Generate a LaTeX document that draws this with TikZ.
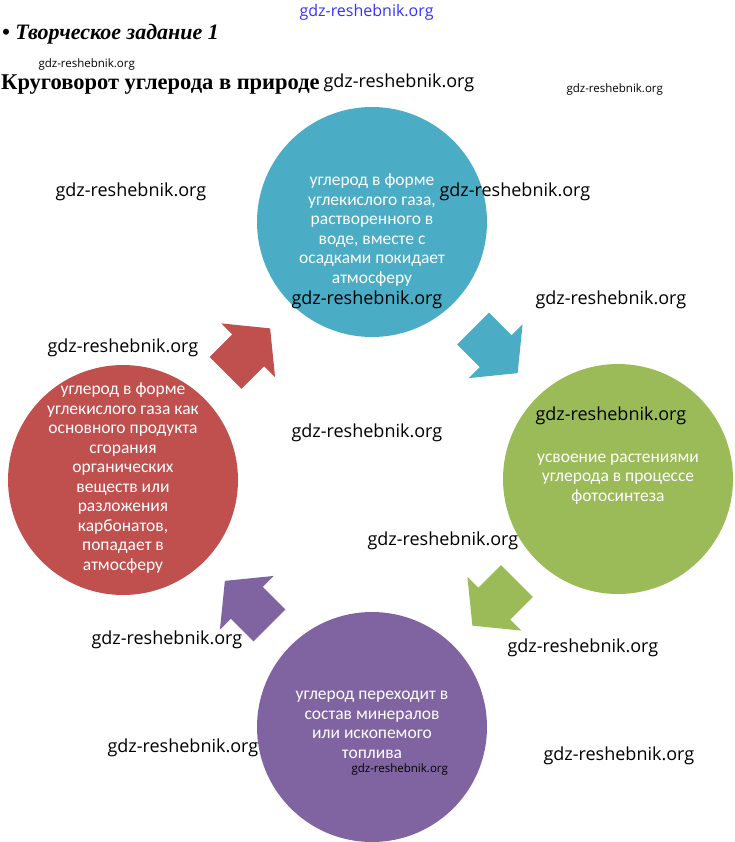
\documentclass[tikz,border=0pt]{standalone}
\usepackage{fontspec}
\setmainfont{Liberation Serif}
\newfontfamily\calfont{Carlito}
\newfontfamily\wmfont{Open Sans}
\usetikzlibrary{calc}
\definecolor{cblue}{HTML}{4BACC6}
\definecolor{cgreen}{HTML}{9BBB59}
\definecolor{cpurple}{HTML}{8064A2}
\definecolor{cred}{HTML}{C0504D}
\tikzset{
  stage/.style={circle, minimum size=230pt, inner sep=0pt},
  stagetext/.style={text=white, font=\calfont\fontsize{17.5}{19.5}\selectfont, align=center},
  wm/.style={font=\wmfont\fontsize{18}{20}\selectfont, anchor=west},
  wmsmall/.style={font=\wmfont\fontsize{11.5}{13}\selectfont, anchor=west}
}

\begin{document}
\begin{tikzpicture}[x=1pt,y=-1pt]
  \useasboundingbox (0,0) rectangle (735,842);

  % Headings
  \node[anchor=base west, inner sep=0pt, font=\bfseries\itshape\fontsize{22}{24}\selectfont] (task) at (2,40) {• Творческое задание 1};
  \node[anchor=base west, inner sep=0pt, font=\bfseries\fontsize{22.5}{24}\selectfont] (title) at (1,90) {Круговорот углерода в природе};

  % Stages of the cycle
  \node[stage, fill=cblue] (rain) at (372,222) {};
  \node[stage, fill=cgreen] (photo) at (618,479) {};
  \node[stage, fill=cpurple] (fossil) at (372,727) {};
  \node[stage, fill=cred] (burn) at (123,480) {};

  \node[stagetext] (raintxt) at (372,230) {углерод в форме\\углекислого газа,\\растворенного в\\воде, вместе с\\осадками покидает\\атмосферу};
  \node[stagetext] (phototxt) at (618,479) {усвоение растениями\\углерода в процессе\\фотосинтеза};
  \node[stagetext] (fossiltxt) at (372,725) {углерод переходит в\\состав минералов\\или ископемого\\топлива};
  \node[stagetext] (burntxt) at (123,478) {углерод в форме\\углекислого газа как\\основного продукта\\сгорания\\органических\\веществ или\\разложения\\карбонатов,\\попадает в\\атмосферу};

  % Block arrows between stages
  \foreach \a/\b/\ang/\col in {burn/rain/45/cred, rain/photo/-45/cblue, photo/fossil/-135/cgreen, fossil/burn/135/cpurple}
    \fill[\col, shift={($(\a)!0.5!(\b)$)}, rotate=\ang]
      (-31,-22.5) -- (1,-22.5) -- (1,-38) -- (32,0) -- (1,38) -- (1,22.5) -- (-31,22.5) -- cycle;

  % Watermarks
  \node[wm, text=blue!80!white, font=\wmfont\fontsize{16}{18}\selectfont] (wm0) at (296,12) {gdz-reshebnik.org};
  \node[wmsmall] (wms1) at (35,65) {gdz-reshebnik.org};
  \node[wmsmall] (wms2) at (563,90) {gdz-reshebnik.org};
  \node[wmsmall] (wms3) at (348,770) {gdz-reshebnik.org};
  \foreach \x/\y [count=\i] in {320/83, 52/192, 436/192, 288/300, 532/300, 44/348, 288/433, 532/416, 364/541, 88/640, 504/648, 104/748, 540/756}
    \node[wm] (wm\i) at (\x,\y) {gdz-reshebnik.org};
\end{tikzpicture}
\end{document}
